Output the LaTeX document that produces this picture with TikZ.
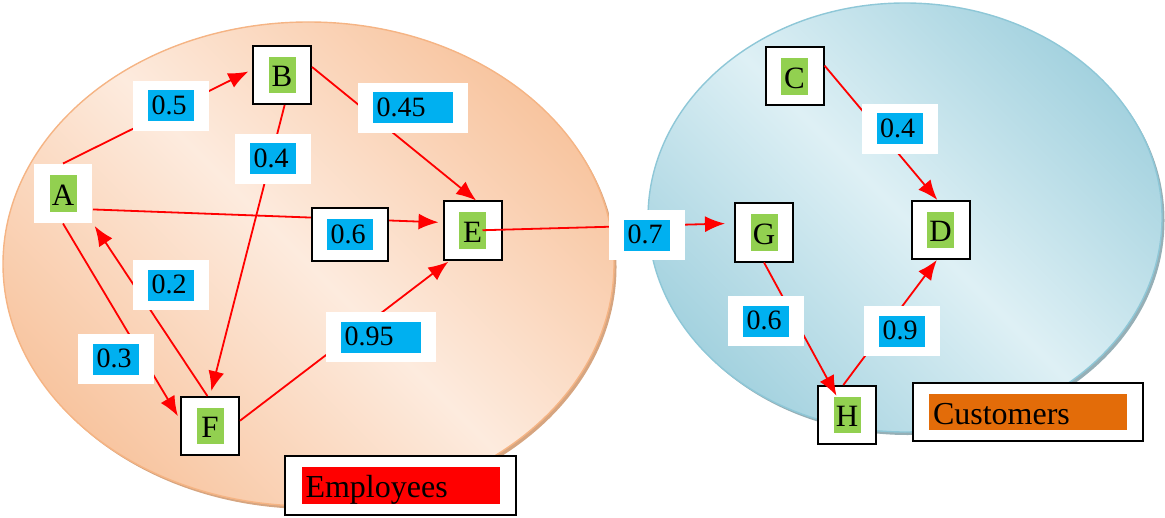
\documentclass[tikz,border=0pt]{standalone}
\usepackage{fontspec}
\setmainfont{Liberation Serif}
\usetikzlibrary{arrows.meta}

\definecolor{staffdark}{RGB}{248,197,160}
\definecolor{stafflight}{RGB}{253,235,222}
\definecolor{staffedge}{RGB}{245,180,132}
\definecolor{staffshadow}{RGB}{214,165,128}
\definecolor{clientdark}{RGB}{164,210,223}
\definecolor{clientlight}{RGB}{222,240,245}
\definecolor{clientedge}{RGB}{142,199,215}
\definecolor{clientshadow}{RGB}{150,175,182}
\definecolor{wordblue}{RGB}{0,176,240}
\definecolor{wordgreen}{RGB}{146,208,80}
\definecolor{wordorange}{RGB}{227,108,9}

% coloured backgrounds behind the texts
\newcommand{\letterbox}[1]{{\setlength{\fboxsep}{0pt}\colorbox{wordgreen}{\rule[-3.3pt]{0pt}{18.3pt}\makebox[13.5pt]{#1}}}}
\newcommand{\weightbox}[2][23pt]{{\setlength{\fboxsep}{0pt}\colorbox{wordblue}{\rule[-3.5pt]{0pt}{15.5pt}\makebox[#1][l]{\hspace{1.8pt}#2}}}}
\newcommand{\groupbox}[2]{{\setlength{\fboxsep}{0pt}\colorbox{#1}{\rule[-3pt]{0pt}{18.2pt}\makebox[99pt][l]{\hspace{2pt}#2}}}}

\tikzset{
    vertex/.style={draw=black, line width=1pt, fill=white, inner sep=0pt,
        minimum width=29pt, minimum height=29pt, font=\fontsize{15.5}{18}\selectfont},
    weight/.style={fill=white, inner sep=0pt, minimum width=38pt,
        minimum height=25pt, font=\fontsize{14}{16}\selectfont},
    group/.style={draw=black, line width=1pt, fill=white, inner sep=0pt,
        minimum width=115.5pt, minimum height=29.5pt, font=\fontsize{16}{19}\selectfont},
    flow/.style={draw=red, line width=0.9pt, -{Latex[length=10pt,width=8pt]}}
}

\begin{document}
\begin{tikzpicture}[x=0.5pt,y=-0.5pt]
\useasboundingbox (0,0) rectangle (1165,518);

% employees
\fill[staffshadow] (311,267) ellipse (305.5 and 242);
\shade[top color=staffdark, bottom color=staffdark, middle color=stafflight, shading angle=-45] (308.5,264) ellipse (305.5 and 242);
\draw[staffedge, line width=0.7pt] (308.5,264) ellipse (305.5 and 242);
% customers
\fill[clientshadow] (907.5,220.5) ellipse (257 and 214.5);
\shade[top color=clientdark, bottom color=clientdark, middle color=clientlight, shading angle=-45] (905,217.5) ellipse (257 and 214.5);
\draw[clientedge, line width=0.7pt] (905,217.5) ellipse (257 and 214.5);

\node[vertex, draw=none] (A) at (63,193.5) {\letterbox{A}};
\node[vertex] (B) at (282,75) {\letterbox{B}};
\node[vertex] (E) at (472.5,230.5) {\letterbox{E}};
\node[vertex] (F) at (210,426) {\letterbox{F}};
\node[vertex] (C) at (794.5,76.5) {\letterbox{C}};
\node[vertex] (D) at (940.5,230) {\letterbox{D}};
\node[vertex] (G) at (764,232.5) {\letterbox{G}};
\node[vertex] (H) at (847,415) {\letterbox{H}};

\draw[flow, shorten >=2pt] (A.north) -- (B.170);
\draw[flow, shorten >=2pt] (A.-28) -- (E.165);
\draw[flow] (B.15) -- (E.83);
\draw[flow, shorten >=2.5pt] (B.-85) -- (F.north);
\draw[flow, shorten >=1.5pt] (F.95) -- (A.south east);
\draw[flow, shorten >=2pt] (A.south) -- (F.168);
\draw[flow, shorten >=1pt] (F.10) -- (E.-127);
\draw[flow, shorten <=5pt, shorten >=4.5pt] (E.center) -- (G.163);
\draw[flow] (C.20) -- (D.96);
\draw[flow, shorten >=11pt] (G.south) -- (H.center);
\draw[flow] (H.97) -- (D.-97);

\node[weight] (ab) at (171,106) {\weightbox{0.5}};
\node[weight] (bf) at (273,159) {\weightbox{0.4}};
\node[weight, minimum width=55pt] (be) at (413,108) {\weightbox[40pt]{0.45}};
\node[weight, draw=black, line width=1pt, minimum height=26.5pt] (ae) at (350,234.5) {\weightbox{0.6}};
\node[weight] (fa) at (171,285) {\weightbox{0.2}};
\node[weight] (af) at (116,359) {\weightbox{0.3}};
\node[weight, minimum width=55pt] (fe) at (381,337) {\weightbox[40pt]{0.95}};
\node[weight] (eg) at (647,235) {\weightbox{0.7}};
\node[weight] (cd) at (899.5,129) {\weightbox{0.4}};
\node[weight] (gh) at (766,321) {\weightbox{0.6}};
\node[weight] (hd) at (902,331) {\weightbox{0.9}};

\node[group] (staff) at (400.5,485.5) {\groupbox{red}{Employees}};
\node[group, minimum width=115pt, minimum height=29pt] (clients) at (1028,412) {\groupbox{wordorange}{Customers}};

\end{tikzpicture}
\end{document}
